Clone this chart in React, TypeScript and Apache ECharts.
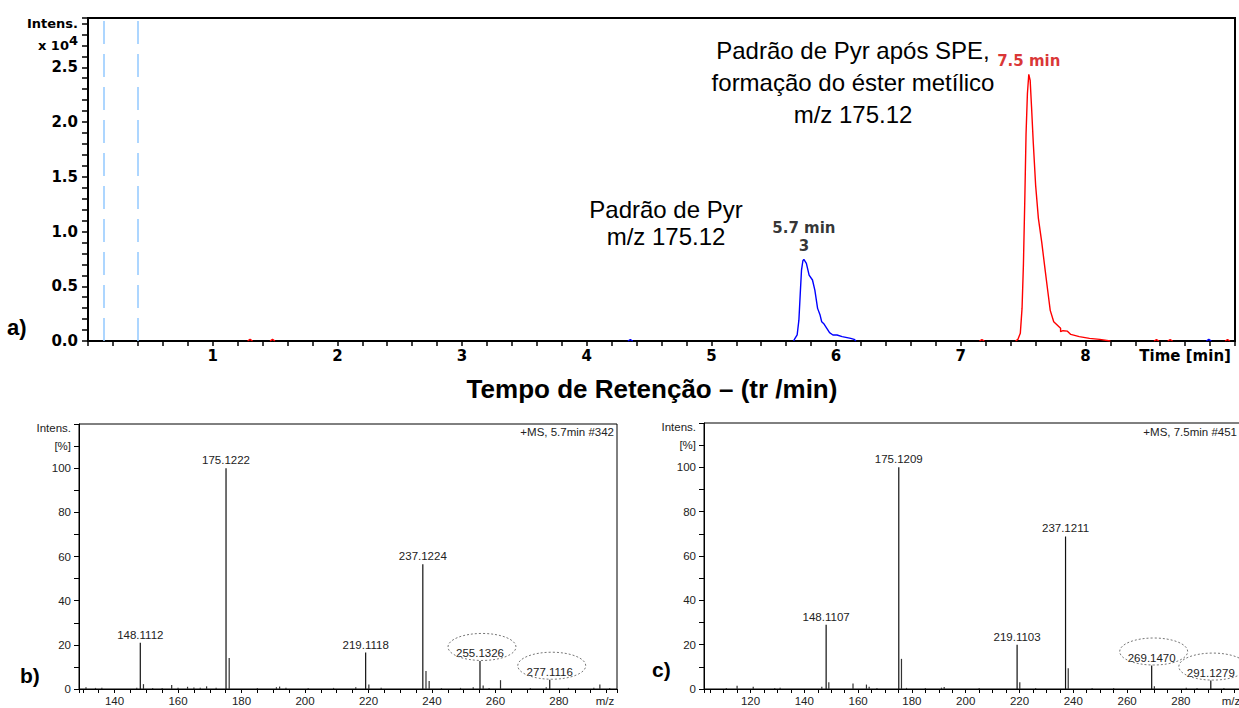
import { useEffect, useRef } from 'react';
import * as echarts from 'echarts';

// ---------- Chromatogram (a) ----------
const bluePeak: [number, number][] = [
  [5.66, 0], [5.666, 0.015], [5.688, 0.055], [5.702, 0.19], [5.713, 0.435], [5.723, 0.648],
  [5.734, 0.733], [5.742, 0.745], [5.762, 0.709], [5.784, 0.602], [5.811, 0.557], [5.83, 0.465],
  [5.852, 0.298], [5.872, 0.237], [5.885, 0.176], [5.904, 0.155], [5.926, 0.116], [5.948, 0.076],
  [5.975, 0.055], [6.008, 0.055], [6.049, 0.04], [6.118, 0.024], [6.145, 0.015], [6.16, 0],
];
const redPeak: [number, number][] = [
  [7.44, 0], [7.459, 0.015], [7.478, 0.07], [7.492, 0.3], [7.503, 0.7], [7.514, 1.29],
  [7.524, 1.89], [7.535, 2.26], [7.546, 2.436], [7.557, 2.38], [7.568, 2.14], [7.582, 1.81],
  [7.601, 1.42], [7.623, 1.12], [7.65, 0.9], [7.678, 0.64], [7.699, 0.45], [7.718, 0.28],
  [7.746, 0.176], [7.782, 0.137], [7.801, 0.116], [7.801, 0.085], [7.82, 0.094], [7.856, 0.09],
  [7.883, 0.06], [7.951, 0.04], [8.033, 0.024], [8.115, 0.015], [8.2, 0],
];
const redBlips: [number, number][][] = [
  [[1.28, 0], [1.3, 0.015], [1.32, 0]],
  [[1.46, 0], [1.48, 0.015], [1.5, 0]],
  [[7.15, 0], [7.17, 0.012], [7.19, 0]],
  [[8.55, 0], [8.57, 0.012], [8.59, 0]],
  [[8.66, 0], [8.68, 0.012], [8.7, 0]],
  [[9.12, 0], [9.14, 0.012], [9.16, 0]],
];
const blueBlips: [number, number][][] = [
  [[4.33, 0], [4.35, 0.012], [4.37, 0]],
  [[8.97, 0], [8.99, 0.015], [9.01, 0]],
];
const markerTimes = [0.128, 0.404];
const apexTimes = [5.742, 7.546];
const apexValues = [0.745, 2.436];
const apexTexts = ['5.7 min\n3', '7.5 min'];
const apexColors = ['#000000', '#d00000'];
const chromYMajor = [0, 5, 10, 15, 20, 25]; // tenths
const chromXLabels = ['1', '2', '3', '4', '5', '6', '7', '8'];

// ---------- Spectrum (b) 5.7 min ----------
const specBLabeled: [number, number][] = [
  [148.1112, 21], [175.1222, 100], [219.1118, 16.5], [237.1224, 56.5], [255.1326, 12.7], [277.1116, 4.2],
];
const specBMinor: [number, number][] = [
  [149.11, 2.2], [158.0, 1.8], [176.12, 14], [220.12, 2], [238.12, 8.2], [239.12, 3.6],
  [256.13, 1.6], [261.6, 4], [292.9, 2], [131, 0.8], [134, 0.5], [136, 0.6], [147, 0.6],
  [152, 0.5], [155, 0.4], [160, 0.6], [163, 1], [165, 0.7], [167, 0.6], [169, 1.2], [172, 0.6],
  [185, 0.5], [191, 0.8], [192, 1.1], [194, 0.6], [201, 0.5], [209, 0.5], [216, 0.8], [224, 0.6],
  [243, 0.4], [249, 0.5], [253, 0.8], [258, 0.5], [271, 0.4], [276, 0.8], [283, 0.5], [291, 0.6], [296, 0.5],
];
const circledB = [255.1326, 277.1116];

// ---------- Spectrum (c) 7.5 min ----------
const specCLabeled: [number, number][] = [
  [148.1107, 29], [175.1209, 100], [219.1103, 20], [237.1211, 68.8], [269.147, 10.6], [291.1279, 3.8],
];
const specCMinor: [number, number][] = [
  [149.11, 3], [158.1, 2.5], [163.1, 2], [164.1, 1], [176.12, 13.6], [220.11, 3], [238.12, 9.4],
  [270.15, 1.2], [115.0, 1.5], [121.0, 1], [111, 0.5], [129, 0.5], [131, 0.6], [146.5, 1],
  [167, 0.5], [178, 0.5], [185, 0.4], [191, 0.6], [192, 0.9], [205, 0.4], [226, 0.5], [247, 0.5],
  [255, 0.4], [282, 0.6], [286, 0.4], [296, 0.5],
];
const circledC = [269.147, 291.1279];
const specYLabels = [0, 20, 40, 60, 80, 100];
const specXLabels = [120, 140, 160, 180, 200, 220, 240, 260, 280];

const FONT = '"Liberation Sans", Arial, sans-serif';
const WIDE = '"DejaVu Sans", Verdana, sans-serif';
const SPEC_FS = 11.5;

function chromYFormatter(v: number) {
  const r = Math.round(v * 10);
  if (Math.abs(v * 10 - r) > 1e-6) return '';
  if (chromYMajor.includes(r)) return (r / 10).toFixed(1);
  if (r === 29) return '{n|Intens.}';
  if (r === 27) return '{n|x 10}{s|4}';
  return '';
}
function chromXFormatter(v: number) {
  const r = Math.round(v * 10);
  if (Math.abs(v * 10 - r) > 1e-6) return '';
  if (r === 88) return 'Time [min]';
  if (r % 10 === 0 && chromXLabels.includes(String(r / 10))) return String(r / 10);
  return '';
}
function specXFormatter(v: number) {
  const r = Math.round(v);
  if (Math.abs(v - r) > 1e-6) return '';
  return specXLabels.includes(r) ? String(r) : '';
}
function specYFormatter(v: number) {
  const r = Math.round(v);
  if (r === 120) return '{t|Intens.}';
  if (r === 110) return '[%]';
  return specYLabels.includes(r) ? String(r) : '';
}

function specXAxis(gridIndex: number, min: number, max: number) {
  return {
    type: 'value', gridIndex, min, max, minInterval: 5, maxInterval: 5, splitNumber: 34,
    name: 'm/z', nameLocation: 'end', nameGap: -12,
    nameTextStyle: { align: 'center', verticalAlign: 'top', padding: [6, 0, 0, 0], fontFamily: FONT, fontSize: SPEC_FS, color: '#222' },
    axisLine: { show: true, onZero: false, lineStyle: { color: '#000', width: 1 } },
    axisTick: { show: true, length: 4, lineStyle: { color: '#000', width: 1 } },
    splitLine: { show: false },
    axisLabel: { interval: 0, margin: 6, formatter: specXFormatter, fontFamily: FONT, fontSize: SPEC_FS, color: '#222' },
  };
}
function specYAxis(gridIndex: number) {
  return {
    type: 'value', gridIndex, min: 0, max: 120, interval: 10,
    axisLine: { show: true, lineStyle: { color: '#000', width: 1 } },
    axisTick: { show: true, length: 5, lineStyle: { color: '#000', width: 1 } },
    splitLine: { show: false },
    axisLabel: {
      interval: 0, margin: 8, formatter: specYFormatter, fontFamily: FONT, fontSize: SPEC_FS, color: '#222',
      rich: { t: { fontFamily: FONT, fontSize: SPEC_FS, color: '#222', padding: [8, 0, 0, 0] } },
    },
  };
}
function specSeries(idx: number, labeled: [number, number][], minor: [number, number][]) {
  return [
    {
      type: 'bar', xAxisIndex: idx, yAxisIndex: idx, barWidth: 1.2, data: minor,
      itemStyle: { color: '#333' }, silent: true,
    },
    {
      type: 'bar', xAxisIndex: idx, yAxisIndex: idx, barWidth: 1.2, barGap: '-100%', data: labeled,
      itemStyle: { color: '#111' },
      label: {
        show: true, position: 'top', distance: 2, fontFamily: FONT, fontSize: SPEC_FS, color: '#222',
        formatter: (p: any) => p.value[0].toFixed(4),
      },
    },
  ];
}

export default function App() {
  const ref = useRef<HTMLDivElement>(null);
  useEffect(() => {
    if (!ref.current) return;
    const chart = echarts.init(ref.current, null, { renderer: 'svg' });
    const lineBase = { type: 'line', xAxisIndex: 0, yAxisIndex: 0, showSymbol: false, symbol: 'none', silent: true };
    const series: any[] = [
      {
        ...lineBase, data: bluePeak, lineStyle: { color: '#0000ff', width: 1.4 },
        markLine: {
          silent: true, symbol: 'none', label: { show: false },
          lineStyle: { color: '#99ccff', type: [23, 10], width: 1.6 },
          data: markerTimes.map((t) => ({ xAxis: t })),
        },
      },
      { ...lineBase, data: redPeak, lineStyle: { color: '#ff0000', width: 1.4 } },
      ...redBlips.map((d) => ({ ...lineBase, data: d, lineStyle: { color: '#ff0000', width: 1.4 } })),
      ...blueBlips.map((d) => ({ ...lineBase, data: d, lineStyle: { color: '#0000ff', width: 1.4 } })),
      {
        type: 'scatter', xAxisIndex: 0, yAxisIndex: 0, symbolSize: 1, itemStyle: { color: 'transparent' },
        data: apexTimes.map((t, i) => ({
          value: [t, apexValues[i]],
          label: {
            show: true, position: 'top', distance: 4, formatter: apexTexts[i], color: apexColors[i],
            fontFamily: WIDE, fontWeight: 'bold', fontSize: 15, lineHeight: 18,
          },
        })),
      },
      ...specSeries(1, specBLabeled, specBMinor),
      ...specSeries(2, specCLabeled, specCMinor),
    ];
    const option: any = {
      animation: false,
      textStyle: { fontFamily: FONT },
      grid: [
        { left: 88, top: 18, width: 1147, height: 323, show: true, borderColor: '#000', borderWidth: 2, containLabel: false, outerBoundsMode: 'none' },
        { left: 79, top: 424, width: 538, height: 265, show: true, borderColor: '#000', borderWidth: 1, containLabel: false, outerBoundsMode: 'none' },
        { left: 704, top: 423, width: 539, height: 266, show: true, borderColor: '#000', borderWidth: 1, containLabel: false, outerBoundsMode: 'none' },
      ],
      xAxis: [
        {
          type: 'value', gridIndex: 0, min: 0, max: 9.2, interval: 0.2,
          axisLine: { show: true, lineStyle: { color: '#000', width: 2 } },
          axisTick: { show: true, length: 5, lineStyle: { color: '#000', width: 1.5 } },
          splitLine: { show: false },
          axisLabel: { interval: 0, margin: 7, formatter: chromXFormatter, color: '#000', fontFamily: WIDE, fontWeight: 'bold', fontSize: 15 },
        },
        specXAxis(1, 128.8, 298.3),
        specXAxis(2, 102.7, 303.1),
      ],
      yAxis: [
        {
          type: 'value', gridIndex: 0, min: 0, max: 2.95, interval: 0.1,
          axisLine: { show: true, lineStyle: { color: '#000', width: 2 } },
          axisTick: { show: true, length: 6, lineStyle: { color: '#000', width: 1.5 } },
          splitLine: { show: false },
          axisLabel: {
            interval: 0, margin: 10, formatter: chromYFormatter, color: '#000', fontFamily: WIDE, fontWeight: 'bold', fontSize: 15,
            rich: {
              n: { fontFamily: WIDE, fontWeight: 'bold', fontSize: 13, color: '#000' },
              s: { fontFamily: WIDE, fontWeight: 'bold', fontSize: 13, color: '#000', padding: [0, 0, 9, 0] },
            },
          },
        },
        specYAxis(1),
        specYAxis(2),
      ],
      series,
    };
    chart.setOption(option);

    const ellipse = (gridIndex: number, mz: number, h: number) => {
      const p = chart.convertToPixel({ gridIndex } as any, [mz, h]) as number[];
      return {
        type: 'ellipse', silent: true, z: 10,
        shape: { cx: p[0] + 2, cy: p[1] - 14, rx: 34, ry: 13.5 },
        style: { fill: 'none', stroke: '#777', lineWidth: 1, lineDash: [2, 2] },
      };
    };
    const txt = (text: string, x: number, y: number, font: string, align = 'center', fill = '#000', lineHeight?: number) => ({
      type: 'text', x, y, silent: true, z: 10,
      style: { text, font, fill, textAlign: align, textVerticalAlign: 'middle', lineHeight },
    });
    const heightOf = (arr: [number, number][], mz: number) => (arr.find((d) => d[0] === mz) || [mz, 0])[1];
    const graphic = [
      txt('Padrão de Pyr após SPE,\nformação do éster metílico\nm/z 175.12', 853, 82, `24px ${FONT}`, 'center', '#000', 32),
      txt('Padrão de Pyr\nm/z 175.12', 666, 223, `24px ${FONT}`, 'center', '#000', 27),
      txt('a)', 7, 327, `bold 22px ${FONT}`, 'left'),
      txt('Tempo de Retenção – (tr /min)', 652, 389, `bold 26px ${FONT}`, 'center'),
      txt('b)', 20, 675, `bold 21px ${FONT}`, 'left'),
      txt('c)', 652, 669, `bold 21px ${FONT}`, 'left'),
      txt('+MS, 5.7min #342', 614, 432, `${SPEC_FS}px ${FONT}`, 'right', '#222'),
      txt('+MS, 7.5min #451', 1237, 432, `${SPEC_FS}px ${FONT}`, 'right', '#222'),
      ...circledB.map((mz) => ellipse(1, mz, heightOf(specBLabeled, mz))),
      ...circledC.map((mz) => ellipse(2, mz, heightOf(specCLabeled, mz))),
    ];
    chart.setOption({ graphic });
    return () => chart.dispose();
  }, []);
  return <div ref={ref} style={{ position: 'fixed', left: 0, top: 0, width: 1239, height: 708, background: '#fff' }} />;
}
